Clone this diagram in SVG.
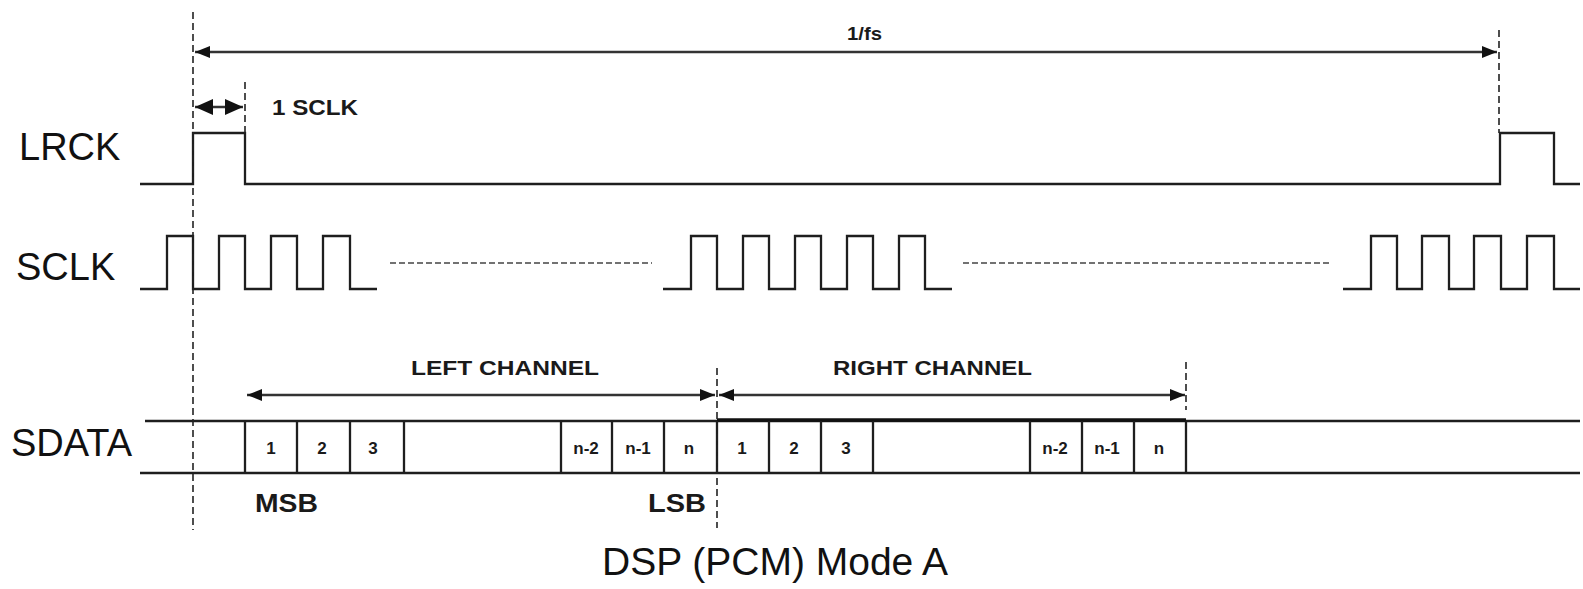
<svg xmlns="http://www.w3.org/2000/svg" width="1583" height="589" viewBox="0 0 1583 589">
<defs>
<style>
.w{fill:none;stroke:#1e1e1e;stroke-width:2.3;stroke-linejoin:miter}
.d{fill:none;stroke:#222;stroke-width:1.6;stroke-dasharray:7,4}
.sd{fill:none;stroke:#444;stroke-width:1.6;stroke-dasharray:6,3}
.a{fill:none;stroke:#333;stroke-width:2.4}
.lbl{font-family:"Liberation Sans",Arial,sans-serif;font-size:38px;fill:#111}
.b{font-family:"Liberation Sans",Arial,sans-serif;font-weight:bold;fill:#1a1a1a}
.n{font-family:"Liberation Sans",Arial,sans-serif;font-weight:bold;font-size:17px;fill:#1a1a1a;text-anchor:middle}
</style>
<marker id="ae" viewBox="0 0 15 12" refX="15" refY="6" markerWidth="15" markerHeight="12" markerUnits="userSpaceOnUse" orient="auto"><path d="M0,0 L15,6 L0,12 z" fill="#111"/></marker>
<marker id="as" viewBox="0 0 15 12" refX="0" refY="6" markerWidth="15" markerHeight="12" markerUnits="userSpaceOnUse" orient="auto"><path d="M15,0 L0,6 L15,12 z" fill="#111"/></marker>
<marker id="be" viewBox="0 0 18 16" refX="18" refY="8" markerWidth="18" markerHeight="16" markerUnits="userSpaceOnUse" orient="auto"><path d="M0,0 L18,8 L0,16 z" fill="#111"/></marker>
<marker id="bs" viewBox="0 0 18 16" refX="0" refY="8" markerWidth="18" markerHeight="16" markerUnits="userSpaceOnUse" orient="auto"><path d="M18,0 L0,8 L18,16 z" fill="#111"/></marker>
</defs>
<rect width="1583" height="589" fill="#fff"/>

<g id="labels">
<text class="lbl" x="19" y="160">LRCK</text>
<text class="lbl" x="16" y="280">SCLK</text>
<text class="lbl" x="11" y="456">SDATA</text>
</g>

<g id="lrck">
<path class="w" d="M140,184 H193 V133 H245 V184 H1500 V133 H1554 V184 H1580"/>
</g>

<g id="sclk">
<path class="w" d="M140,289 H167 V236 H193 V289 H219 V236 H245 V289 H271 V236 H297 V289 H323 V236 H350 V289 H377"/>
<path class="w" d="M663,289 H691 V236 H717 V289 H743 V236 H769 V289 H795 V236 H821 V289 H847 V236 H873 V289 H899 V236 H925 V289 H952"/>
<path class="w" d="M1343,289 H1371 V236 H1397 V289 H1422 V236 H1449 V289 H1474 V236 H1501 V289 H1527 V236 H1554 V289 H1580"/>
<path class="sd" d="M390,263 H652 M963,263 H1332"/>
</g>

<g id="sdata">
<path class="w" d="M145,421 H1580 M140,473 H1580"/>
<path fill="none" stroke="#111" stroke-width="3.4" d="M717,420 H1186"/>
<path class="w" d="M245,421 V473 M297,421 V473 M350,421 V473 M404,421 V473 M561,421 V473 M612,421 V473 M664,421 V473 M717,421 V473 M769,421 V473 M821,421 V473 M873,421 V473 M1030,421 V473 M1082,421 V473 M1134,421 V473 M1186,421 V473"/>
<text class="n" x="271" y="454">1</text>
<text class="n" x="322" y="454">2</text>
<text class="n" x="373" y="454">3</text>
<text class="n" x="586" y="454">n-2</text>
<text class="n" x="638" y="454">n-1</text>
<text class="n" x="689" y="454">n</text>
<text class="n" x="742" y="454">1</text>
<text class="n" x="794" y="454">2</text>
<text class="n" x="846" y="454">3</text>
<text class="n" x="1055" y="454">n-2</text>
<text class="n" x="1107" y="454">n-1</text>
<text class="n" x="1159" y="454">n</text>
<text class="b" x="255" y="512" font-size="26" textLength="63" lengthAdjust="spacingAndGlyphs">MSB</text>
<text class="b" x="648" y="512" font-size="26" textLength="58" lengthAdjust="spacingAndGlyphs">LSB</text>
</g>

<g id="connectors">
<path class="d" d="M193,12 V530"/>
<path class="d" d="M245,82 V133"/>
<path class="d" d="M1499,30 V133"/>
<path class="d" d="M717,368 V528"/>
<path class="d" d="M1186,362 V410"/>
<path class="a" d="M195,52 H1497" marker-start="url(#as)" marker-end="url(#ae)"/>
<path class="a" d="M195,107 H243" marker-start="url(#bs)" marker-end="url(#be)"/>
<path class="a" d="M247,395 H715" marker-start="url(#as)" marker-end="url(#ae)"/>
<path class="a" d="M719,395 H1185" marker-start="url(#as)" marker-end="url(#ae)"/>
</g>

<g id="annotations">
<text class="b" x="847" y="40" font-size="19" textLength="35" lengthAdjust="spacingAndGlyphs">1/fs</text>
<text class="b" x="272" y="115" font-size="22" textLength="86" lengthAdjust="spacingAndGlyphs">1 SCLK</text>
<text class="b" x="411" y="375" font-size="21" textLength="188" lengthAdjust="spacingAndGlyphs">LEFT CHANNEL</text>
<text class="b" x="833" y="375" font-size="21" textLength="199" lengthAdjust="spacingAndGlyphs">RIGHT CHANNEL</text>
<text class="lbl" x="602" y="575" font-size="37" textLength="346" lengthAdjust="spacingAndGlyphs">DSP (PCM) Mode A</text>
</g>
</svg>
